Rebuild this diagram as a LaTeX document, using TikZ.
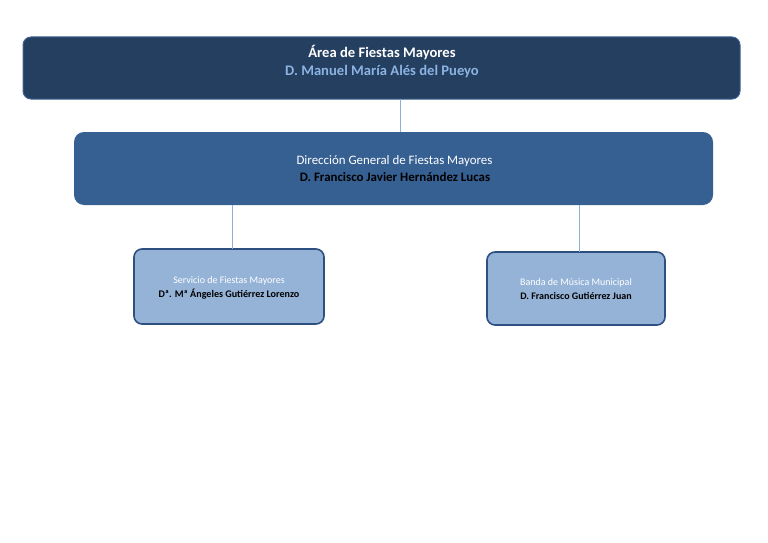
\documentclass[tikz,border=0pt]{standalone}
\usepackage{fontspec}
\setmainfont{Carlito}
\definecolor{topfill}{HTML}{243F60}
\definecolor{topedge}{HTML}{3E6190}
\definecolor{midfill}{HTML}{366092}
\definecolor{lowfill}{HTML}{95B3D7}
\definecolor{lowedge}{HTML}{2E5081}
\definecolor{lineblue}{HTML}{8DAEDB}
\definecolor{paleblue}{HTML}{8DB3E2}
\begin{document}
\begin{tikzpicture}[x=1pt,y=-1pt,
  box/.style={rounded corners=8pt},
  conn/.style={draw=lineblue,line width=0.9pt}]
\useasboundingbox (0,0) rectangle (768,543);
% boxes
\draw[box,fill=topfill,draw=topedge,line width=1pt] (23,37) rectangle (740,99);
\node[inner sep=0,minimum width=717pt,minimum height=62pt] (top) at (381.5,68) {};
\fill[box,rounded corners=10pt,fill=midfill] (74,132) rectangle (713,205);
\node[inner sep=0,minimum width=639pt,minimum height=73pt] (dir) at (393.5,168.5) {};
\draw[box,fill=lowfill,draw=lowedge,line width=1.6pt] (134,249) rectangle (324,324);
\node[inner sep=0,minimum width=190pt,minimum height=75pt] (serv) at (229,286.5) {};
\draw[box,fill=lowfill,draw=lowedge,line width=1.6pt] (487,252) rectangle (665,325);
\node[inner sep=0,minimum width=178pt,minimum height=73pt] (banda) at (576,288.5) {};
% texts
\node[text=white,font=\fontsize{14.6}{17}\selectfont\bfseries] (t1) at (382,53) {Área de Fiestas Mayores};
\node[text=paleblue,font=\fontsize{14.6}{17}\selectfont\bfseries] (t2) at (382,72) {D. Manuel María Alés del Pueyo};
\node[text=white,font=\fontsize{12.9}{15}\selectfont] (d1) at (394.5,161) {Dirección General de Fiestas Mayores};
\node[text=black,font=\fontsize{12.9}{15}\selectfont\bfseries] (d2) at (395,177) {D. Francisco Javier Hernández Lucas};
\node[text=white,font=\fontsize{10}{12}\selectfont] (s1) at (229,281) {Servicio de Fiestas Mayores};
\node[text=black,font=\fontsize{10.1}{12}\selectfont\bfseries] (s2) at (229,294) {Dª. Mª Ángeles Gutiérrez Lorenzo};
\node[text=white,font=\fontsize{10}{12}\selectfont] (b1) at (576,283) {Banda de Música Municipal};
\node[text=black,font=\fontsize{10}{12}\selectfont\bfseries] (b2) at (576,296) {D. Francisco Gutiérrez Juan};
% connectors
\draw[conn] ([xshift=18.5pt]top.south) -- ([xshift=6.5pt]dir.north);
\draw[conn] ([xshift=-161.5pt]dir.south) -- ([xshift=3pt]serv.north);
\draw[conn] ([xshift=185.5pt]dir.south) -- ([xshift=3pt]banda.north);
\end{tikzpicture}
\end{document}
